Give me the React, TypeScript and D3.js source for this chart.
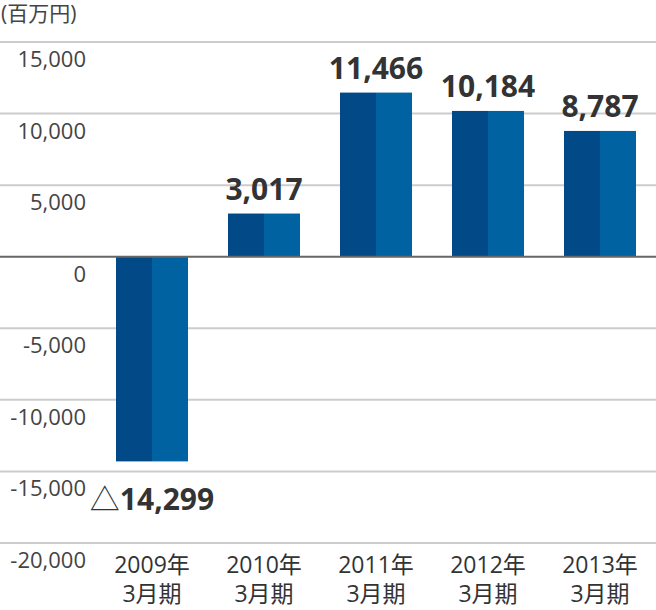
import React from 'react';
import * as d3 from 'd3';

const years = ['2009年', '2010年', '2011年', '2012年', '2013年'];
const values = [-14299, 3017, 11466, 10184, 8787];
const yTicks = [15000, 10000, 5000, 0, -5000, -10000, -15000, -20000];

const width = 656;
const height = 610;
const font = '"Open Sans", "Noto Sans CJK JP", sans-serif';

const locale = d3.formatLocale({ decimal: '.', thousands: ',', grouping: [3], currency: ['', ''], minus: '-' });
const fmt = locale.format(',');

const App = () => {
  const x = d3.scaleBand().domain(years).range([96, 656]).paddingInner(40 / 112).paddingOuter(20 / 112);
  const y = d3.scaleLinear().domain([-20000, 15000]).range([543, 42]);
  const bw = x.bandwidth();

  return (
    <div style={{ position: 'absolute', left: 0, top: 0 }}>
      <svg width={width} height={height} style={{ display: 'block' }} fontFamily={font}>
        <text x={1} y={21} fontSize={21} fill="#444">(百万円)</text>
        {yTicks.map((t) => (
          <g key={t}>
            {t !== 0 && (
              <line x1={0} x2={width} y1={y(t)} y2={y(t)} stroke="#cccccc" strokeWidth={2} />
            )}
            <text x={86} y={y(t) + 25} fontSize={22} textAnchor="end" fill="#444">
              {fmt(t)}
            </text>
          </g>
        ))}
        {values.map((v, i) => {
          const x0 = x(years[i]) as number;
          const top = y(Math.max(0, v));
          const h = Math.abs(y(v) - y(0));
          return (
            <g key={years[i]}>
              <rect x={x0} y={top} width={bw / 2} height={h} fill="#014a87" />
              <rect x={x0 + bw / 2} y={top} width={bw / 2} height={h} fill="#0062a1" />
            </g>
          );
        })}
        <line x1={0} x2={width} y1={y(0)} y2={y(0)} stroke="#666" strokeWidth={2} />
        {values.map((v, i) => {
          const cx = (x(years[i]) as number) + bw / 2;
          const ty = v >= 0 ? y(v) - 14 : y(v) + 49;
          return (
            <text key={years[i]} x={cx} y={ty} fontSize={30} fontWeight="bold" textAnchor="middle" fill="#333">
              {v < 0 && <tspan fontWeight="normal">△</tspan>}
              {fmt(Math.abs(v))}
            </text>
          );
        })}
        {years.map((yr) => {
          const cx = (x(yr) as number) + bw / 2;
          return (
            <g key={yr} fontSize={23} fill="#333" textAnchor="middle">
              <text x={cx} y={573}>{yr}</text>
              <text x={cx} y={602}>3月期</text>
            </g>
          );
        })}
      </svg>
    </div>
  );
};

export default App;
